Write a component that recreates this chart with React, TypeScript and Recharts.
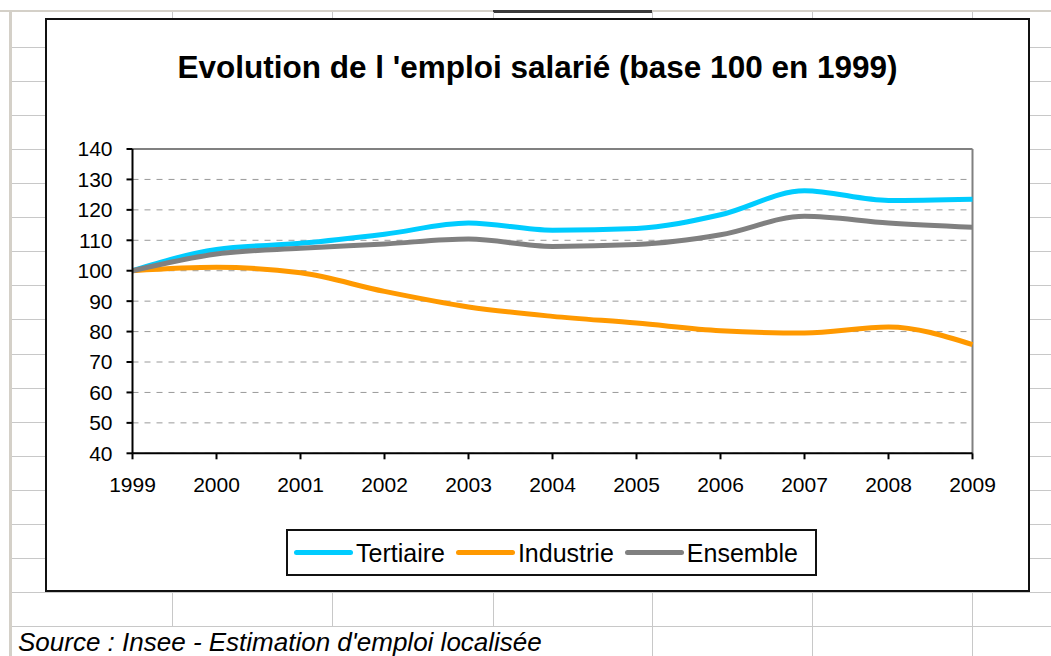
import React from 'react';
import { LineChart, Line, XAxis, YAxis, CartesianGrid, Legend, ReferenceLine } from 'recharts';

const years = [1999, 2000, 2001, 2002, 2003, 2004, 2005, 2006, 2007, 2008, 2009];
const tertiaire = [100, 107.0, 109.0, 112.0, 115.7, 113.3, 113.9, 118.4, 126.3, 123.1, 123.5];
const industrie = [100, 101.1, 99.3, 93.2, 88.1, 85.0, 82.8, 80.3, 79.5, 81.5, 75.7];
const ensemble = [100, 105.5, 107.4, 108.8, 110.4, 108.0, 108.6, 111.8, 117.9, 115.7, 114.3];
const yTicks = [40, 50, 60, 70, 80, 90, 100, 110, 120, 130, 140];
const seriesNames = ['Tertiaire', 'Industrie', 'Ensemble'];
const seriesKeys = ['tertiaire', 'industrie', 'ensemble'];
const seriesColors = ['#00CCFF', '#FF9900', '#808080'];
const titleText = "Evolution de l 'emploi salarié (base 100 en 1999)";
const sourceText = "Source : Insee - Estimation d'emploi localisée";

const data = years.map((y, i) => ({
  year: y,
  tertiaire: tertiaire[i],
  industrie: industrie[i],
  ensemble: ensemble[i],
}));

const FONT = "'Liberation Sans', Arial, sans-serif";

const rowLines = Array.from({ length: 18 }, (_, k) => 47 + k * 34.06);
const colLines = [172, 332, 493, 652, 812, 972];

const renderLegend = (props: any) => {
  const payload = [...(props.payload || [])].sort(
    (a: any, b: any) => seriesNames.indexOf(a.value) - seriesNames.indexOf(b.value)
  );
  return (
    <div
      style={{
        boxSizing: 'border-box',
        width: 531,
        height: 47,
        border: '2px solid #111',
        background: '#fff',
        display: 'flex',
        alignItems: 'center',
        paddingLeft: 6,
        fontFamily: FONT,
        fontSize: 25,
        color: '#000',
      }}
    >
      {payload.map((p: any, i: number) => (
        <div key={i} style={{ display: 'flex', alignItems: 'center', marginRight: 11 }}>
          <div style={{ width: 59, height: 5, borderRadius: 3, background: p.color }} />
          <span style={{ marginLeft: 3, lineHeight: '28px' }}>{p.value}</span>
        </div>
      ))}
    </div>
  );
};

export default function App() {
  return (
    <div
      style={{
        position: 'absolute',
        left: 0,
        top: 0,
        width: 1051,
        height: 656,
        background: '#fff',
        overflow: 'hidden',
      }}
    >
      {/* spreadsheet background */}
      <div style={{ position: 'absolute', left: 0, top: 10, width: 1051, height: 2, background: '#d4d0c8' }} />
      <div style={{ position: 'absolute', left: 493, top: 10, width: 159, height: 3, background: '#3a3a3a' }} />
      <div style={{ position: 'absolute', left: 9, top: 10, width: 3, height: 646, background: '#d4d0c8' }} />
      {rowLines.map((y, i) => (
        <div key={'r' + i} style={{ position: 'absolute', left: 12, top: Math.round(y), width: 1039, height: 1, background: '#c8c8c8' }} />
      ))}
      {colLines.map((x, i) => (
        <div
          key={'c' + i}
          style={{
            position: 'absolute',
            left: x,
            top: 12,
            width: 1,
            height: x < 560 ? 614 : 644,
            background: '#c8c8c8',
          }}
        />
      ))}
      {/* chart box */}
      <div
        style={{
          position: 'absolute',
          left: 45,
          top: 18,
          width: 985,
          height: 574,
          boxSizing: 'border-box',
          border: '2px solid #111',
          background: '#fff',
        }}
      />
      <div
        style={{
          position: 'absolute',
          left: 45,
          width: 985,
          top: 52,
          textAlign: 'center',
          fontFamily: FONT,
          fontWeight: 'bold',
          fontSize: 31.5,
          lineHeight: '30px',
          color: '#000',
          whiteSpace: 'nowrap',
        }}
      >
        {titleText}
      </div>
      <div style={{ position: 'absolute', left: 0, top: 0 }}>
        <LineChart
          width={1051}
          height={656}
          data={data}
          margin={{ top: 149, right: 78.5, left: 52.5, bottom: 162.7 }}
        >
          <CartesianGrid horizontal={true} vertical={false} stroke="#999" strokeDasharray="6 6" />
          <XAxis
            dataKey="year"
            type="number"
            domain={[1999, 2009]}
            ticks={years}
            interval={0}
            height={40}
            tickSize={6}
            tickMargin={18}
            axisLine={{ stroke: '#000', strokeWidth: 2 }}
            tickLine={{ stroke: '#000', strokeWidth: 2 }}
            tick={{ fill: '#000', fontSize: 21, fontFamily: FONT }}
          />
          <YAxis
            type="number"
            domain={[40, 140]}
            ticks={yTicks}
            interval={0}
            width={80}
            tickSize={6}
            tickMargin={14}
            axisLine={{ stroke: '#000', strokeWidth: 2 }}
            tickLine={{ stroke: '#000', strokeWidth: 2 }}
            tick={{ fill: '#000', fontSize: 21, fontFamily: FONT }}
          />
          <ReferenceLine y={140} stroke="#808080" strokeWidth={2} />
          <ReferenceLine x={2009} stroke="#808080" strokeWidth={2} />
          {seriesKeys.map((k, i) => (
            <Line
              key={k}
              type="monotone"
              dataKey={k}
              name={seriesNames[i]}
              stroke={seriesColors[i]}
              strokeWidth={5}
              dot={false}
              activeDot={false}
              isAnimationActive={false}
            />
          ))}
          <Legend
            layout="horizontal"
            verticalAlign="middle"
            align="center"
            content={renderLegend}
            wrapperStyle={{ left: 286, top: 529, width: 531, height: 47 }}
          />
        </LineChart>
      </div>
      <div
        style={{
          position: 'absolute',
          left: 18,
          top: 628,
          fontFamily: FONT,
          fontStyle: 'italic',
          fontSize: 26,
          lineHeight: '28px',
          color: '#000',
          whiteSpace: 'nowrap',
        }}
      >
        {sourceText}
      </div>
    </div>
  );
}
